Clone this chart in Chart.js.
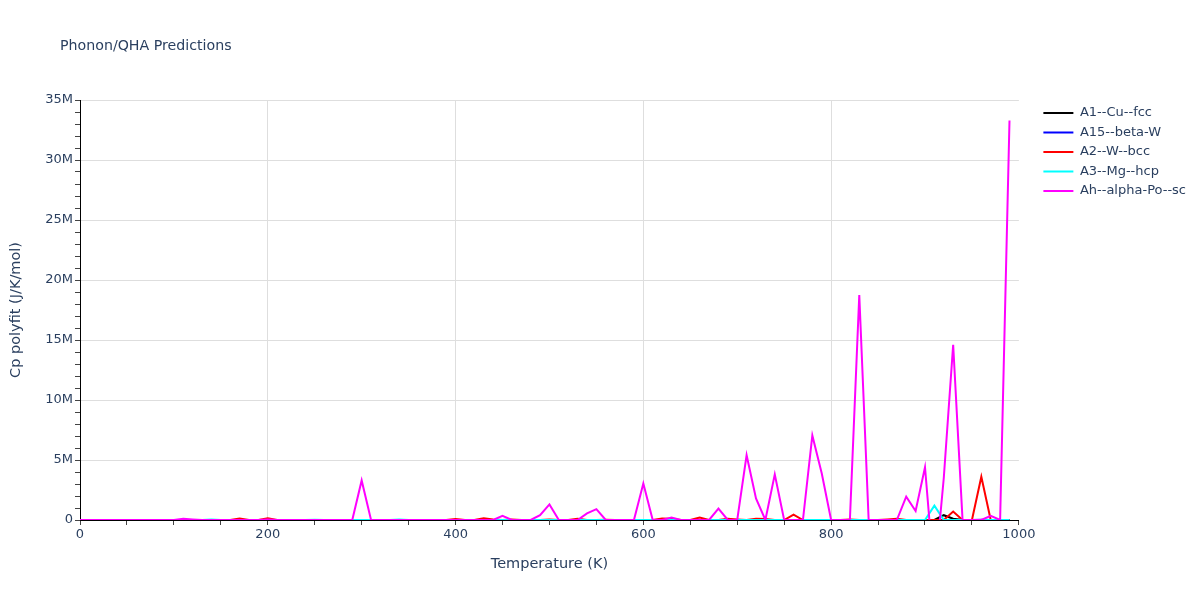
<!DOCTYPE html>
<html>
<head>
<meta charset="utf-8">
<script src="https://cdn.jsdelivr.net/npm/chart.js@4.4.1/dist/chart.umd.min.js"></script>
<style>
  html, body { margin: 0; padding: 0; background: #fff; }
  #wrap { position: relative; width: 1200px; height: 600px; }
  #title { position: absolute; left: 60px; top: 37px; font-family: "DejaVu Sans", sans-serif; font-size: 14.2px; color: #2a3f5f; }
</style>
</head>
<body>
<div id="wrap">
  <div id="title">Phonon/QHA Predictions</div>
  <canvas id="c"></canvas>
</div>
<script>
const temperatures = [
  0,10,20,30,40,50,60,70,80,90,
  100,110,120,130,140,150,160,170,180,190,
  200,210,220,230,240,250,260,270,280,290,
  300,310,320,330,340,350,360,370,380,390,
  400,410,420,430,440,450,460,470,480,490,
  500,510,520,530,540,550,560,570,580,590,
  600,610,620,630,640,650,660,670,680,690,
  700,710,720,730,740,750,760,770,780,790,
  800,810,820,830,840,850,860,870,880,890,
  900,910,920,930,940,950,960,970,980,990
];
const seriesNames = ["A1--Cu--fcc", "A15--beta-W", "A2--W--bcc", "A3--Mg--hcp", "Ah--alpha-Po--sc"];
const cuFcc = [
  0,0,0,0,0,0,0,0,0,0,
  0,0,0,0,0,0,0,0,0,0,
  0,0,0,0,0,0,0,0,0,0,
  0,0,0,0,0,0,0,0,0,0,
  0,0,0,0,0,0,0,0,0,0,
  0,0,0,0,0,0,0,0,0,0,
  0,0,0,0,0,0,0,0,0,0,
  0,0,0,0,0,0,0,0,0,0,
  0,0,0,0,0,0,0,0,0,0,
  0,0,4.0e5,1.0e5,0,0,0,0,0,0
];
const betaW = [
  0,0,0,0,0,0,0,0,0,0,
  0,0,0,0,0,0,0,0,0,0,
  0,0,0,0,0,0,0,0,0,0,
  0,0,0,0,0,0,0,0,0,0,
  0,0,0,0,0,0,0,0,0,0,
  0,0,0,0,0,0,0,0,0,0,
  0,0,0,0,0,0,0,0,0,0,
  0,0,0,0,0,0,0,0,0,0,
  0,0,0,0,0,0,0,0,0,0,
  0,0,0,0,0,0,3.0e4,0,0,0
];
const wBcc = [
  0,0,0,0,0,0,0,0,0,0,
  0,0,0,0,0,0,0,1.2e5,0,0,
  1.5e5,0,0,0,0,0,0,0,0,0,
  0,0,0,0,0,0,0,0,0,0,
  8.0e4,0,0,1.5e5,5.0e4,0,5.0e4,0,0,0,
  5.0e4,0,0,1.0e5,0,0,2.0e4,0,0,0,
  0,0,1.2e5,1.0e5,0,0,2.0e5,0,0,1.0e5,
  5.0e4,0,1.0e5,8.0e4,0,0,4.5e5,0,0,0,
  0,0,5.0e4,0,0,0,5.0e4,1.0e5,0,0,
  0,0,0,7.0e5,0,0,3.6e6,0,0,0
];
const mgHcp = [
  0,0,0,0,0,0,0,0,0,0,
  0,0,0,0,5.0e4,0,0,0,0,0,
  0,0,0,0,0,3.0e4,0,0,0,0,
  0,0,0,0,5.0e4,0,0,0,0,0,
  0,0,0,0,0,0,0,0,0,0,
  0,0,0,0,0,0,0,0,0,0,
  0,0,0,0,0,0,0,0,0,0,
  0,0,0,0,0,0,0,0,0,0,
  0,0,0,0,0,0,0,0,0,0,
  0,1.2e6,0,0,0,0,0,0,0,0
];
const alphaPoSc = [
  0,0,0,0,0,0,0,0,0,0,
  0,1.0e5,5.0e4,0,0,0,0,0,0,0,
  5.0e4,0,0,0,0,0,0,0,0,0,
  3.3e6,0,0,0,0,0,0,0,0,0,
  0,0,0,0,0,3.5e5,0,0,0,4.0e5,
  1.3e6,0,0,0,5.5e5,9.0e5,0,0,0,0,
  3.05e6,0,0,2.0e5,0,0,0,0,9.5e5,0,
  0,5.4e6,1.8e6,0,3.8e6,0,0,0,7.05e6,3.9e6,
  0,0,0,1.875e7,0,0,0,0,1.95e6,7.5e5,
  4.4e6,-5.0e6,3.5e6,1.46e7,0,0,0,3.5e5,0,3.33e7
];
const seriesColors = ["#000000", "#0000ff", "#ff0000", "#00ffff", "#ff00ff"];
const xTickLabels = [0, 200, 400, 600, 800, 1000];
const yTickLabels = ["0", "5M", "10M", "15M", "20M", "25M", "30M", "35M"];

const allSeries = [cuFcc, betaW, wBcc, mgHcp, alphaPoSc];
const datasets = allSeries.map((vals, i) => ({
  label: seriesNames[i],
  data: temperatures.map((t, j) => ({ x: t, y: vals[j] })),
  borderColor: seriesColors[i],
  backgroundColor: seriesColors[i],
  borderWidth: 2,
  pointRadius: 0,
  tension: 0,
  fill: false,
  order: allSeries.length - 1 - i
}));

const textColor = "#2a3f5f";
const gridColor = "#dedede";
const fontFamily = "'DejaVu Sans', sans-serif";

new Chart(document.getElementById("c"), {
  type: "line",
  data: { datasets },
  options: {
    responsive: true,
    maintainAspectRatio: false,
    animation: false,
    layout: { padding: { top: 100, left: 0, right: 4, bottom: 0 } },
    plugins: {
      title: { display: false },
      tooltip: { enabled: false },
      legend: {
        position: "right",
        align: "start",
        labels: {
          usePointStyle: true,
          pointStyle: "line",
          pointStyleWidth: 30,
          boxHeight: 13,
          padding: 6.5,
          color: textColor,
          font: { family: fontFamily, size: 13, lineHeight: 1.0 },
          sort: (a, b) => a.datasetIndex - b.datasetIndex
        }
      }
    },
    scales: {
      x: {
        type: "linear",
        min: 0,
        max: 1000,
        afterFit: s => { s.height = 80; },
        border: { display: true, color: "#000", width: 1 },
        grid: {
          color: c => (c.tick && xTickLabels.includes(c.tick.value) && c.tick.value !== 0 && c.tick.value !== 1000) ? gridColor : "rgba(0,0,0,0)",
          tickColor: "#444",
          tickLength: 5,
          lineWidth: 1
        },
        ticks: {
          stepSize: 50,
          autoSkip: false,
          maxTicksLimit: 100,
          maxRotation: 0,
          padding: 2,
          color: textColor,
          font: { family: fontFamily, size: 13 },
          callback: v => xTickLabels.includes(v) ? String(v) : ""
        },
        title: {
          display: true,
          text: "Temperature (K)",
          color: textColor,
          font: { family: fontFamily, size: 14.5 },
          padding: { top: 0, bottom: 27 }
        }
      },
      y: {
        type: "linear",
        min: 0,
        max: 35e6,
        afterFit: s => { s.width = 80; },
        border: { display: true, color: "#000", width: 1 },
        grid: {
          color: c => (c.tick && c.tick.value % 5e6 === 0 && c.tick.value !== 0) ? gridColor : "rgba(0,0,0,0)",
          tickColor: "#444",
          tickLength: 5,
          lineWidth: 1
        },
        ticks: {
          stepSize: 1e6,
          autoSkip: false,
          maxTicksLimit: 100,
          padding: 2,
          color: textColor,
          font: { family: fontFamily, size: 13 },
          callback: v => (Math.round(v) % 5e6 === 0) ? yTickLabels[Math.round(v / 5e6)] : ""
        },
        title: {
          display: true,
          text: "Cp polyfit (J/K/mol)",
          color: textColor,
          font: { family: fontFamily, size: 14.5 },
          padding: { top: 8, bottom: 0 }
        }
      },
      spacer: {
        type: "linear",
        position: "right",
        display: true,
        afterFit: s => { s.width = 18; },
        grid: { display: false, drawTicks: false },
        border: { display: false },
        ticks: { display: false }
      }
    }
  }
});
</script>
</body>
</html>
